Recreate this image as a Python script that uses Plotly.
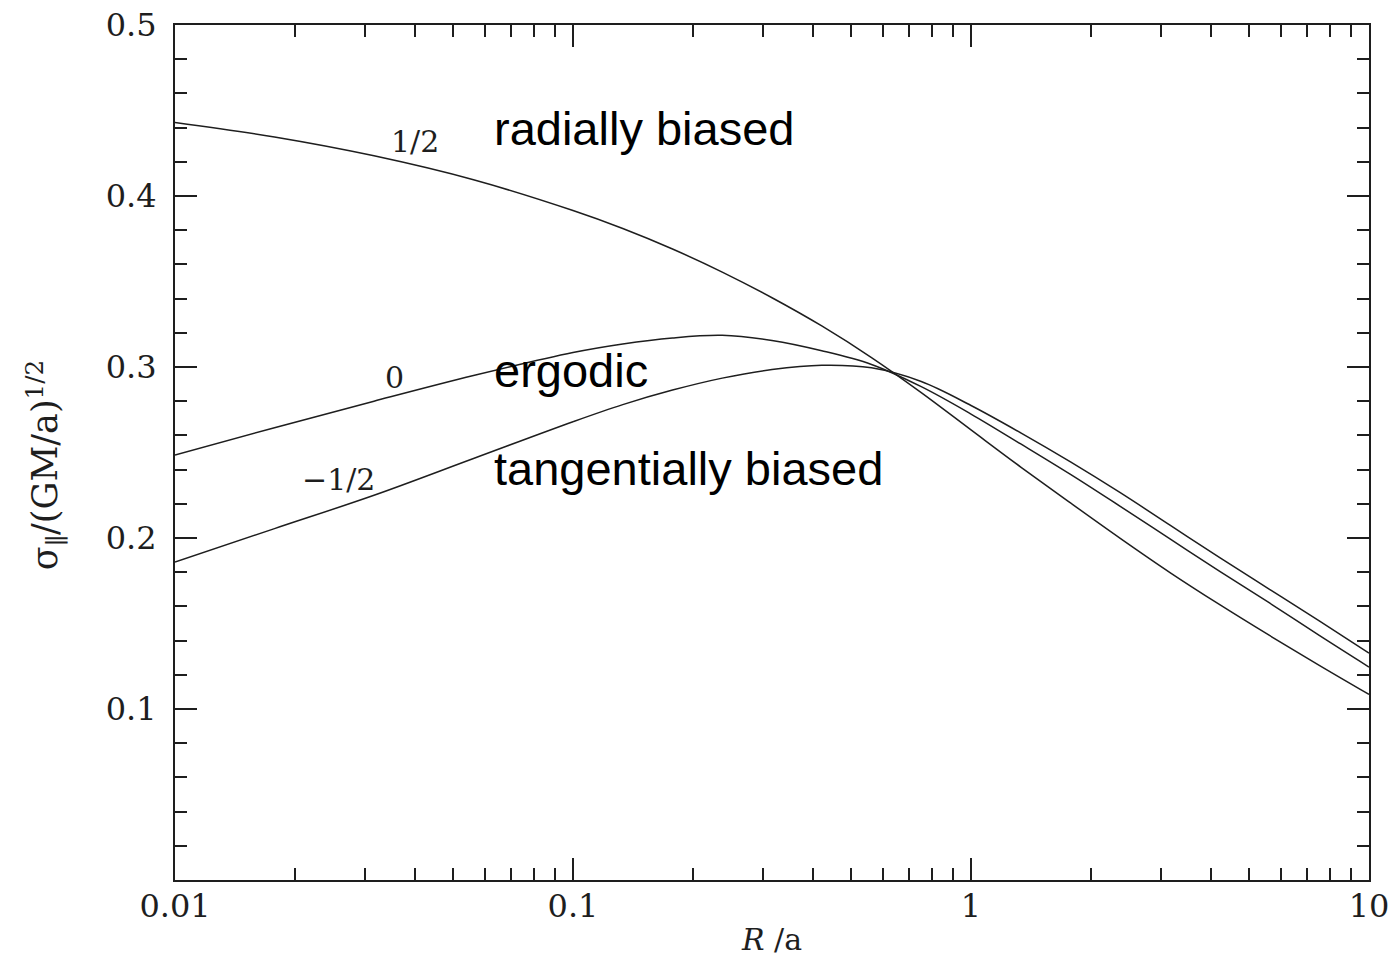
import plotly.graph_objects as go

# ---- data ----
log_R = [-2.0, -1.75, -1.5, -1.25, -1.0, -0.875, -0.75, -0.625, -0.5, -0.375, -0.25,
         -0.125, 0.0, 0.125, 0.25, 0.375, 0.5, 0.625, 0.75, 0.875, 1.0]
R = [10 ** v for v in log_R]

sigma_radial = [0.443, 0.4345, 0.4235, 0.4095, 0.3915, 0.381, 0.369, 0.3555, 0.3405,
                0.324, 0.3055, 0.285, 0.2632, 0.2415, 0.2205, 0.1998, 0.1798, 0.161,
                0.143, 0.1255, 0.1085]
sigma_ergodic = [0.2485, 0.2645, 0.280, 0.295, 0.3085, 0.3135, 0.317, 0.3185, 0.3155,
                 0.3095, 0.3015, 0.2885, 0.2725, 0.255, 0.2372, 0.2185, 0.1995, 0.1805,
                 0.162, 0.143, 0.1245]
sigma_tangential = [0.186, 0.2055, 0.225, 0.2465, 0.268, 0.278, 0.2865, 0.2935, 0.2985,
                    0.301, 0.2995, 0.2915, 0.2775, 0.2615, 0.2445, 0.2265, 0.2075, 0.1885,
                    0.170, 0.1515, 0.1327]

curve_labels = ["1/2", "0", "\u22121/2"]
curve_label_pos = [(-1.397, 0.4317), (-1.449, 0.2937), (-1.59, 0.2344)]
regime_labels = ["radially biased", "ergodic", "tangentially biased"]
regime_label_pos = [(-1.203, 0.4397), (-1.203, 0.2978), (-1.203, 0.2407)]

x_major = [0.01, 0.1, 1, 10]
x_major_text = ["0.01", "0.1", "1", "10"]
x_minor = [m * 10 ** e for e in (-2, -1, 0) for m in range(2, 10)]
y_major = [0.1, 0.2, 0.3, 0.4, 0.5]
y_major_text = ["0.1", "0.2", "0.3", "0.4", "0.5"]
y_minor = [round(0.02 * i, 2) for i in range(0, 25)]

SERIF = "DejaVu Serif"
SANS = "Liberation Sans, Arial, sans-serif"
INK = "#1e1e1e"

fig = go.Figure()
for ys in (sigma_radial, sigma_ergodic, sigma_tangential):
    fig.add_trace(go.Scatter(x=R, y=ys, mode="lines",
                             line=dict(color=INK, width=1.5, shape="spline", smoothing=1.0),
                             showlegend=False, hoverinfo="skip"))

for txt, (lx, ly) in zip(curve_labels, curve_label_pos):
    fig.add_annotation(x=lx, y=ly, xref="x", yref="y", text=txt, showarrow=False,
                       font=dict(family=SERIF, size=30, color=INK),
                       xanchor="center", yanchor="middle")
for txt, (lx, ly) in zip(regime_labels, regime_label_pos):
    fig.add_annotation(x=lx, y=ly, xref="x", yref="y", text=txt, showarrow=False,
                       font=dict(family=SANS, size=47, color="black"),
                       xanchor="left", yanchor="middle")

# y-axis title (rotated text to the left of the tick labels)
fig.add_annotation(x=-0.109, y=0.485, xref="paper", yref="paper",
                   text="\u03c3<sub>\u2225</sub>/(GM/a)<sup>1/2</sup>", textangle=-90,
                   showarrow=False, font=dict(family=SERIF, size=35, color=INK),
                   xanchor="center", yanchor="middle")

axis_common = dict(showline=True, linecolor=INK, linewidth=2, mirror="allticks",
                   ticks="inside", tickcolor=INK, tickwidth=2, ticklen=22,
                   showgrid=False, zeroline=False, automargin=False,
                   tickfont=dict(family=SERIF, size=32, color=INK))

fig.update_xaxes(type="log", range=[-2, 1], tickmode="array", tickvals=x_major,
                 ticktext=x_major_text, ticklabelstandoff=-3,
                 minor=dict(tickmode="array", tickvals=x_minor, ticks="inside",
                            ticklen=12, tickwidth=2, tickcolor=INK, showgrid=False),
                 title=dict(text="<i>R</i> /a", font=dict(family=SERIF, size=30, color=INK),
                            standoff=6),
                 **axis_common)
fig.update_yaxes(range=[0, 0.5], tickmode="array", tickvals=y_major, ticktext=y_major_text,
                 ticklabelstandoff=10,
                 minor=dict(tickmode="array", tickvals=y_minor, ticks="inside",
                            ticklen=12, tickwidth=2, tickcolor=INK, showgrid=False),
                 **axis_common)

fig.update_layout(width=1391, height=957,
                  margin=dict(l=175, r=22, t=25, b=77),
                  paper_bgcolor="white", plot_bgcolor="white")

fig.write_html("out.html",
               config={"displayModeBar": False},
               post_script="document.body.style.margin='0px';"
                           "document.body.style.overflow='hidden';")
